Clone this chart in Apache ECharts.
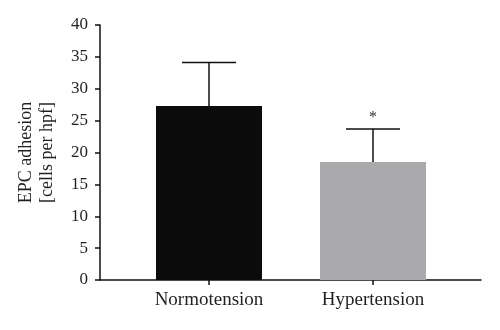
<!DOCTYPE html>
<html>
<head>
<meta charset="utf-8">
<script src="https://cdn.jsdelivr.net/npm/echarts@6/dist/echarts.min.js"></script>
<style>html,body{margin:0;padding:0;background:#fff}#c{width:500px;height:330px}</style>
</head>
<body>
<div id="c"></div>
<script>
const categories = ['Normotension', 'Hypertension'];
const means = [27.3, 18.5];
const sds = [6.8, 5.2];
const significance = ['', '*'];
const barColors = ['#0b0b0b', '#aaaaac'];
const yTicks = { min: 0, max: 40, interval: 5 };

const FONT = 'Liberation Serif';
const TXT = '#231f20';

const chart = echarts.init(document.getElementById('c'), null, { renderer: 'canvas' });
chart.setOption({
  animation: false,
  backgroundColor: '#fff',
  grid: [
    { left: 100, right: 19, top: 25, bottom: 50 },
    { left: 127, right: 45, top: 25, bottom: 50 }
  ],
  xAxis: [
    { type: 'value', gridIndex: 0, min: 0, max: 1,
      axisLine: { show: true, onZero: false, lineStyle: { color: '#111', width: 1.5 } },
      axisTick: { show: false }, axisLabel: { show: false }, splitLine: { show: false } },
    { type: 'category', gridIndex: 1, data: categories,
      axisLine: { show: false },
      axisTick: { show: true, alignWithLabel: true, length: 5, lineStyle: { color: '#111', width: 1.5 } },
      axisLabel: { fontFamily: FONT, fontSize: 19, color: TXT, margin: 11 },
      splitLine: { show: false } }
  ],
  yAxis: [
    { type: 'value', gridIndex: 0, min: yTicks.min, max: yTicks.max, interval: yTicks.interval,
      axisLine: { show: true, lineStyle: { color: '#111', width: 1.5 } },
      axisTick: { show: true, length: 5, lineStyle: { color: '#111', width: 1.5 } },
      axisLabel: { fontFamily: FONT, fontSize: 17, color: TXT, margin: 12 },
      splitLine: { show: false },
      name: 'EPC adhesion\n[cells per hpf]',
      nameLocation: 'middle', nameRotate: 90, nameGap: 42,
      nameTextStyle: { fontFamily: FONT, fontSize: 18, color: TXT, lineHeight: 21 } },
    { type: 'value', gridIndex: 1, min: yTicks.min, max: yTicks.max, interval: yTicks.interval, show: false }
  ],
  series: [
    { type: 'bar', xAxisIndex: 1, yAxisIndex: 1, barWidth: 106,
      data: means.map((v, i) => ({ value: v, itemStyle: { color: barColors[i] } })) },
    { type: 'custom', xAxisIndex: 1, yAxisIndex: 1, z: 3,
      data: means.map((m, i) => [i, m, sds[i]]),
      renderItem: function (params, api) {
        const i = api.value(0), m = api.value(1), e = api.value(2);
        const p0 = api.coord([i, m]);
        const p1 = api.coord([i, m + e]);
        const st = { stroke: '#111', lineWidth: 1.5 };
        const children = [
          { type: 'line', shape: { x1: p0[0], y1: p0[1], x2: p1[0], y2: p1[1] }, style: st },
          { type: 'line', shape: { x1: p1[0] - 27, y1: p1[1], x2: p1[0] + 27, y2: p1[1] }, style: st }
        ];
        const s = significance[params.dataIndex];
        if (s) {
          children.push({ type: 'text', style: { text: s, x: p1[0], y: p1[1] - 11,
            align: 'center', verticalAlign: 'middle', font: '16px "' + FONT + '"', fill: '#333' } });
        }
        return { type: 'group', children: children };
      } }
  ]
});
</script>
</body>
</html>
